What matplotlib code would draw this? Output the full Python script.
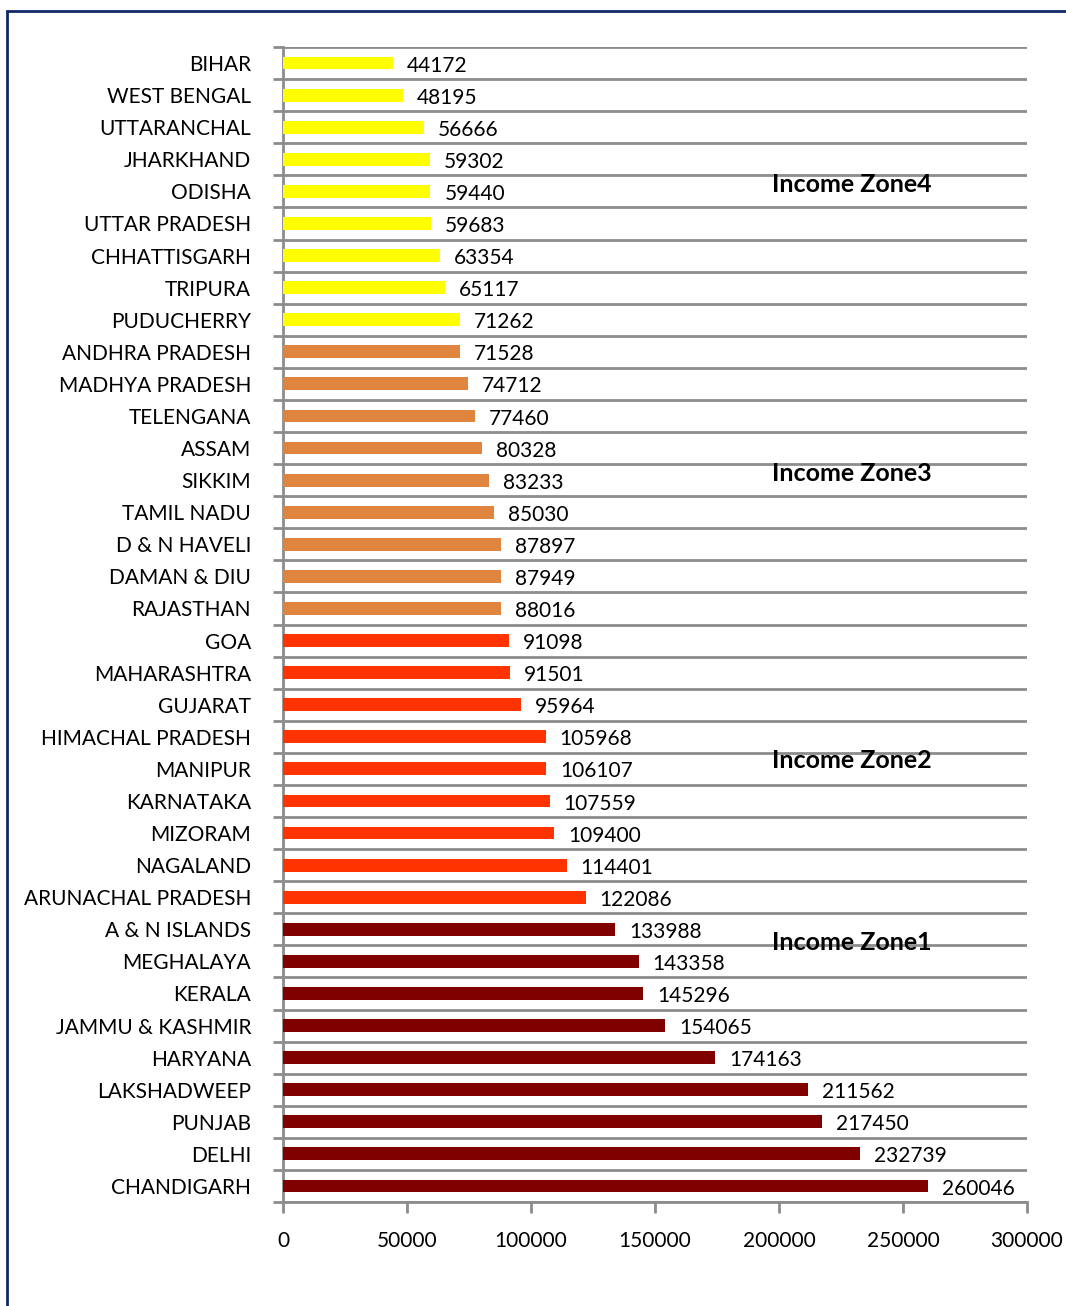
import matplotlib
matplotlib.use("Agg")
import matplotlib.pyplot as plt
from matplotlib.patches import Rectangle
import numpy as np

plt.rcParams['font.family'] = ['Lato', 'DejaVu Sans']

states = ["BIHAR", "WEST BENGAL", "UTTARANCHAL", "JHARKHAND", "ODISHA",
          "UTTAR PRADESH", "CHHATTISGARH", "TRIPURA", "PUDUCHERRY",
          "ANDHRA PRADESH", "MADHYA PRADESH", "TELENGANA", "ASSAM", "SIKKIM",
          "TAMIL NADU", "D & N HAVELI", "DAMAN & DIU", "RAJASTHAN",
          "GOA", "MAHARASHTRA", "GUJARAT", "HIMACHAL PRADESH", "MANIPUR",
          "KARNATAKA", "MIZORAM", "NAGALAND", "ARUNACHAL PRADESH",
          "A & N ISLANDS", "MEGHALAYA", "KERALA", "JAMMU & KASHMIR", "HARYANA",
          "LAKSHADWEEP", "PUNJAB", "DELHI", "CHANDIGARH"]
income = [44172, 48195, 56666, 59302, 59440, 59683, 63354, 65117, 71262,
          71528, 74712, 77460, 80328, 83233, 85030, 87897, 87949, 88016,
          91098, 91501, 95964, 105968, 106107, 107559, 109400, 114401, 122086,
          133988, 143358, 145296, 154065, 174163, 211562, 217450, 232739, 260046]
zone = [4] * 9 + [3] * 9 + [2] * 9 + [1] * 9
zone_names = ["Income Zone4", "Income Zone3", "Income Zone2", "Income Zone1"]
zone_label_pos = [3.8, 12.8, 21.75, 27.4]
zone_colors = {4: "#FFFF00", 3: "#E08540", 2: "#FF3300", 1: "#800000"}

fig = plt.figure(figsize=(10.66, 13.06), dpi=100)
ax = fig.add_axes([0.2655, 0.0796, 0.6979, 0.8844])

y = np.arange(len(states))
ax.barh(y, income, height=0.4, color=[zone_colors[z] for z in zone], zorder=3)
for yi, v in zip(y, income):
    ax.text(v + 5600, yi + 0.08, str(v), va="center", ha="left", fontsize=15, zorder=4)

for name, pos in zip(zone_names, zone_label_pos):
    ax.text(197000, pos, name, fontsize=18, fontweight="bold", va="center",
            ha="left", zorder=5)

ax.set_ylim(len(states) - 0.5, -0.5)
ax.set_xlim(0, 300000)
ax.set_yticks(y)
ax.set_yticklabels(states, fontsize=15)
ax.set_yticks(np.arange(len(states) + 1) - 0.5, minor=True)
ax.tick_params(axis="y", which="major", length=0, pad=23)
ax.tick_params(axis="y", which="minor", length=7, width=2, color="#8c8c8c")
ax.grid(axis="y", which="minor", color="#8c8c8c", linewidth=2, zorder=1)

ax.set_xticks(np.arange(0, 300001, 50000))
ax.tick_params(axis="x", length=8, width=2, color="#8c8c8c", labelsize=15, pad=13)

for s in ["top", "right"]:
    ax.spines[s].set_visible(False)
for s in ["left", "bottom"]:
    ax.spines[s].set_color("#8c8c8c")
    ax.spines[s].set_linewidth(2)

fig.patches.append(Rectangle((7 / 1066, -0.05), 1.2, 1 - 11 / 1306 + 0.05,
                             transform=fig.transFigure, fill=False,
                             edgecolor="#0f2a66", linewidth=2))

fig.savefig("out.png", dpi=100)
